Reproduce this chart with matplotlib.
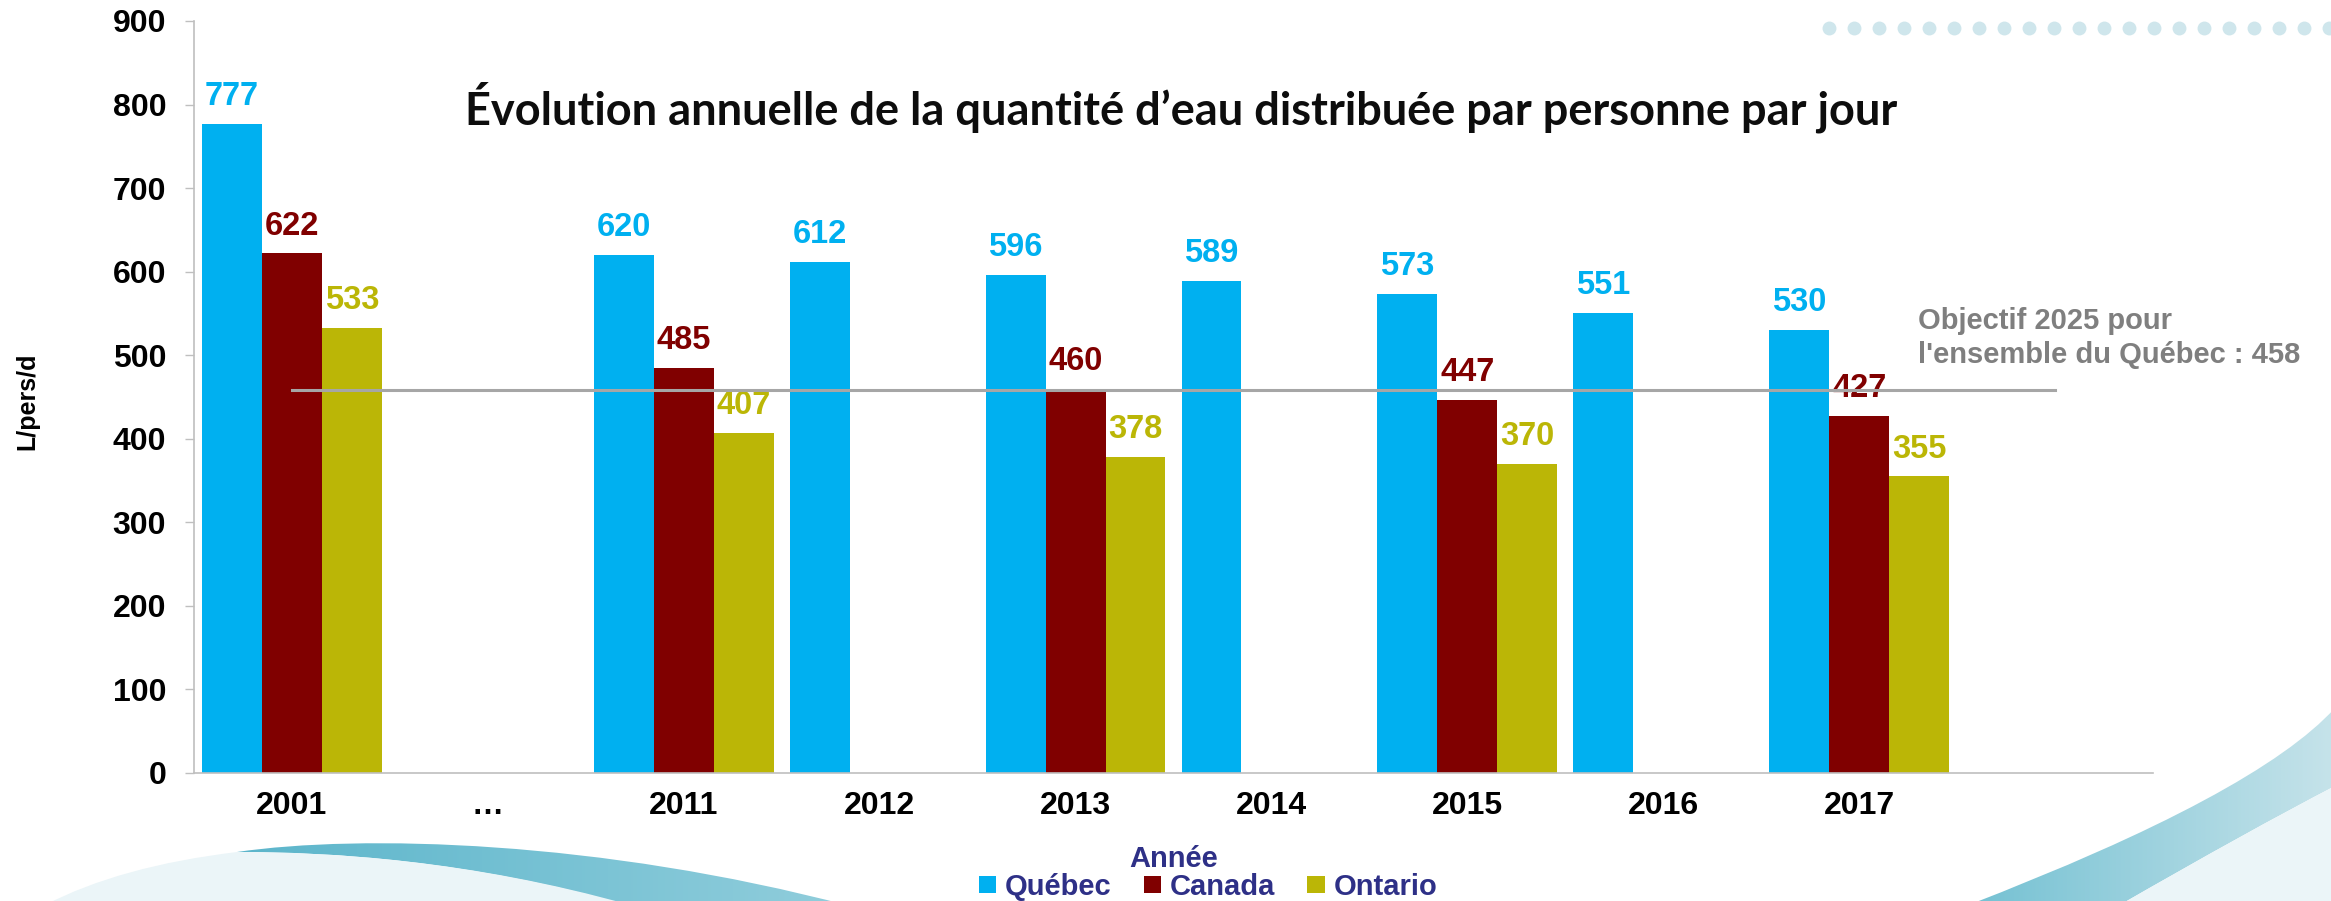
import numpy as np
import matplotlib
matplotlib.use("Agg")
import matplotlib.pyplot as plt
from matplotlib.path import Path
from matplotlib.patches import PathPatch

plt.rcParams['font.family'] = ['Liberation Sans', 'DejaVu Sans']
plt.rcParams['font.weight'] = 'bold'

# données
annees = ['2001', '…', '2011', '2012', '2013', '2014', '2015', '2016', '2017', '']
quebec = [777, np.nan, 620, 612, 596, 589, 573, 551, 530, np.nan]
canada = [622, np.nan, 485, np.nan, 460, np.nan, 447, np.nan, 427, np.nan]
ontario = [533, np.nan, 407, np.nan, 378, np.nan, 370, np.nan, 355, np.nan]
objectif = 458
series = ['Québec', 'Canada', 'Ontario']
couleurs = ['#00B0F0', '#800000', '#BBB606']

W, H = 2331, 901
fig = plt.figure(figsize=(W / 100, H / 100), dpi=100)

# décor (fond)
bg = fig.add_axes([0, 0, 1, 1], zorder=0)
bg.set_xlim(0, W)
bg.set_ylim(H, 0)
bg.axis('off')


def forme(pts, codes, c1, c2, x0, x1):
    p = PathPatch(Path(pts, codes), facecolor='none', edgecolor='none')
    bg.add_patch(p)
    grad = np.linspace(0, 1, 256).reshape(1, -1)
    cm = matplotlib.colors.LinearSegmentedColormap.from_list('g', [c1, c2])
    im = bg.imshow(grad, cmap=cm, extent=[x0, x1, H + 5, 600], aspect='auto')
    im.set_clip_path(p)


M, C3, C4, L, CL = Path.MOVETO, Path.CURVE3, Path.CURVE4, Path.LINETO, Path.CLOSEPOLY
# bas gauche : zone pâle
bg.add_patch(PathPatch(Path([(45, 905), (120, 866), (237, 852), (330, 852), (470, 860), (630, 905), (45, 905)],
                            [M, C3, C3, C4, C4, C4, CL]), facecolor='#EBF5F8', edgecolor='none'))
# bas gauche : bande
forme([(237, 852), (360, 834), (600, 840), (850, 906), (630, 906), (470, 860), (330, 852), (237, 852), (237, 852)],
      [M, C4, C4, C4, L, C4, C4, C4, CL], '#5BB5CB', '#92CEDC', 230, 860)
# bas droite : zone pâle
bg.add_patch(PathPatch(Path([(2335, 786), (2250, 830), (2118, 906), (2335, 906), (2335, 786)],
                            [M, C3, C3, L, CL]), facecolor='#EBF5F8', edgecolor='none'))
# bas droite : bande
forme([(1966, 906), (2257, 794), (2335, 708), (2335, 786), (2250, 830), (2118, 906), (1966, 906)],
      [M, C3, C3, L, C3, C3, CL], '#72C0D2', '#C6E3EA', 1960, 2335)
# points en haut à droite
xs = np.arange(1829, W + 10, 25)
bg.scatter(xs, np.full(len(xs), 28), s=100, color='#CFE6EC', linewidths=0)

# graphique
ax = fig.add_axes([194 / W, 1 - 773 / H, (2153 - 194) / W, (773 - 21) / H], zorder=1)
ax.set_facecolor('none')
x = np.arange(len(annees))
larg = 0.306
for i, (vals, nom, c) in enumerate(zip([quebec, canada, ontario], series, couleurs)):
    pos = x + (i - 1) * larg
    ax.bar(pos, vals, width=larg, color=c, label=nom, zorder=2)
    for xp, v in zip(pos, vals):
        if not np.isnan(v):
            ax.annotate(f'{v:.0f}', (xp, v), xytext=(0, 13.5), textcoords='offset points',
                        ha='center', va='baseline', fontsize=23.5, color=c, fontweight='bold', zorder=3)

ax.plot(x, [objectif] * len(x), color='#A6A6A6', lw=2.2, zorder=4)
ax.text(8.3, 483, "Objectif 2025 pour\nl'ensemble du Québec : 458", color='#7F7F7F',
        fontsize=21, fontweight='bold', ha='left', va='bottom', linespacing=1.3)

ax.set_xlim(-0.5, len(annees) - 0.5)
ax.set_ylim(0, 900)
ax.set_yticks(range(0, 901, 100))
ax.set_xticks(x)
ax.set_xticklabels(annees)
ax.tick_params(axis='x', length=0, pad=13, labelsize=23)
ax.tick_params(axis='y', length=6.5, width=1, color='#BFBFBF', pad=13.5, labelsize=23)
for s in ['top', 'right']:
    ax.spines[s].set_visible(False)
for s in ['left', 'bottom']:
    ax.spines[s].set_color('#BFBFBF')
    ax.spines[s].set_linewidth(1.2)

ax.set_ylabel('L/pers/d', fontsize=18, fontweight='bold')
ax.yaxis.set_label_coords(-0.085, 0.495)
ax.yaxis.label.set_va('center')
ax.set_xlabel('Année', fontsize=21, fontweight='bold', color='#2E3087')
ax.xaxis.set_label_coords(0.5, -(867 - 773) / (773 - 21))
ax.xaxis.label.set_va('baseline')

fig.text(1181 / W, 1 - 107 / H, 'Évolution annuelle de la quantité d\u2019eau distribuée par personne par jour',
         family=['Lato', 'DejaVu Sans'], fontsize=32.5, fontweight='bold', ha='center', va='center', color='#0D0D0D')

leg = fig.legend(loc='center', bbox_to_anchor=(1208 / W, 1 - 887 / H), ncol=3, frameon=False,
                 fontsize=21, handlelength=0.6, handleheight=0.55, handletextpad=0.3,
                 columnspacing=1.1, borderpad=0, borderaxespad=0)
for t in leg.get_texts():
    t.set_color('#2E3087')

fig.savefig('out.png', dpi=100, facecolor='white')
